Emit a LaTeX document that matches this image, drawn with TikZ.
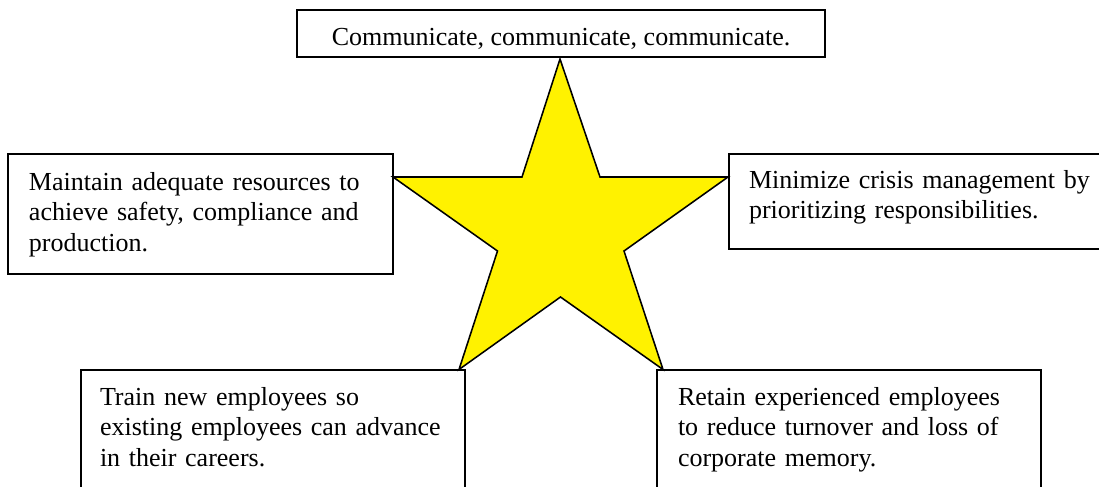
\documentclass[tikz,border=0pt]{standalone}
\usepackage{fontspec}
\setmainfont{Liberation Serif}

\begin{document}
\begin{tikzpicture}
	[x=0.45pt,y=-0.45pt,
	 note/.style={draw,line width=0.8pt,anchor=north west,outer sep=0pt,inner ysep=0pt,
	              align=left,font=\fontsize{11.7}{13.9}\selectfont},
	 burst/.style={draw,line width=0.7pt,fill=yellow,line join=miter}]

	\clip (0,0) rectangle (1099,487);

	\draw[burst] (560,59) -- (600,177) -- (728,177) -- (624,251) -- (663,369.5)
	             -- (560.5,297) -- (459,369.5) -- (497.5,251) -- (393,177) -- (522,177) -- cycle;

	\node[note,align=center,inner xsep=0pt,minimum width=237.6pt,
	      text height=15.75pt,text depth=5.4pt] (talk) at (297,10)
	      {Communicate, communicate, communicate.};
	\node[note,inner xsep=9.45pt,text width=154.35pt,
	      text height=16.2pt,text depth=37.8pt] (resources) at (8,154)
	      {Maintain adequate resources to\\achieve safety, compliance and\\production.};
	\node[note,inner xsep=9pt,text width=180pt,
	      text height=15.3pt,text depth=27.45pt] (crisis) at (729,154)
	      {Minimize crisis management by\\prioritizing responsibilities.};
	\node[note,inner xsep=8.55pt,text width=155.7pt,
	      text height=15.75pt,text depth=63pt] (train) at (81,370)
	      {Train new employees so\\existing employees can advance\\in their careers.};
	\node[note,inner xsep=9.45pt,text width=153.9pt,
	      text height=15.75pt,text depth=63pt] (retain) at (657,370)
	      {Retain experienced employees\\to reduce turnover and loss of\\corporate memory.};
\end{tikzpicture}
\end{document}
